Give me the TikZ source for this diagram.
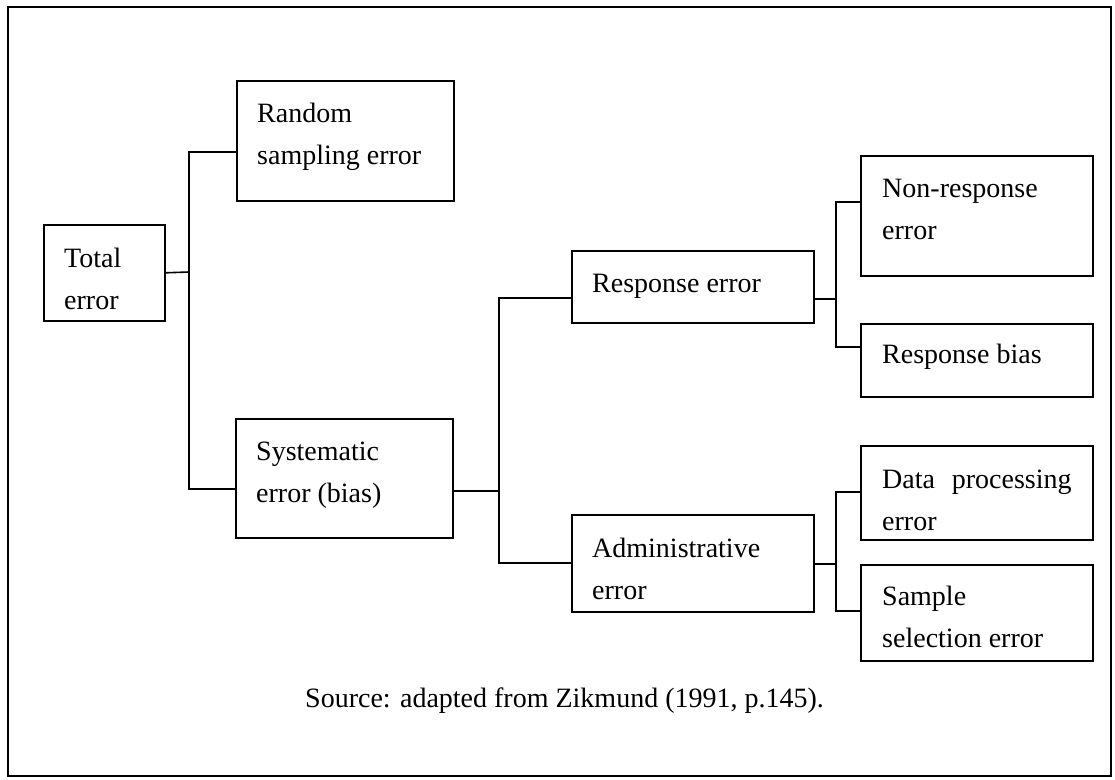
\documentclass[tikz,border=0pt]{standalone}
\usepackage{fontspec}
\setmainfont{Liberation Serif}
\begin{document}
\begin{tikzpicture}[x=1pt,y=-1pt,
  box/.style={draw, line width=1.6pt, rectangle, inner sep=0pt, anchor=north west},
  txt/.style={anchor=base west, inner sep=0pt, font=\fontsize{28}{42}\selectfont},
  conn/.style={line width=1.6pt},
  frame/.style={line width=2pt}]
\useasboundingbox (0,0) rectangle (1115,779);
\draw[frame] (8,7) rectangle (1111,776);
% boxes
\node[box, minimum width=121pt, minimum height=96pt]  (tot)   at (43,224) {};
\node[box, minimum width=217pt, minimum height=120pt] (rnd)   at (236,80) {};
\node[box, minimum width=217pt, minimum height=119pt] (sys)   at (235,418) {};
\node[box, minimum width=242pt, minimum height=72pt]  (resp)  at (571,250) {};
\node[box, minimum width=242pt, minimum height=97pt]  (adm)   at (571,514) {};
\node[box, minimum width=232pt, minimum height=120pt] (nonr)  at (860,155) {};
\node[box, minimum width=232pt, minimum height=73pt]  (rbias) at (860,323) {};
\node[box, minimum width=232pt, minimum height=94pt]  (data)  at (860,445) {};
\node[box, minimum width=232pt, minimum height=96pt]  (samp)  at (860,564) {};
% texts
\node[txt] (ttot) at ([shift={(21,43)}]tot.north west) {\parbox[t]{110pt}{Total\\error}};
\node[txt] (trnd) at ([shift={(21,42)}]rnd.north west) {\parbox[t]{200pt}{Random\\sampling error}};
\node[txt] (tsys) at ([shift={(21,42)}]sys.north west) {\parbox[t]{200pt}{Systematic\\error (bias)}};
\node[txt] (tresp) at ([shift={(21,42)}]resp.north west) {\parbox[t]{220pt}{Response error}};
\node[txt] (tadm) at ([shift={(21,43)}]adm.north west) {\parbox[t]{220pt}{Administrative\\error}};
\node[txt] (tnonr) at ([shift={(22,42)}]nonr.north west) {\parbox[t]{210pt}{Non-response\\error}};
\node[txt] (trbias) at ([shift={(22,40)}]rbias.north west) {\parbox[t]{210pt}{Response bias}};
\node[txt] (tdata) at ([shift={(22,43)}]data.north west) {\parbox[t]{210pt}{Data\hspace{0.35em} processing\\error}};
\node[txt] (tsamp) at ([shift={(22,41)}]samp.north west) {\parbox[t]{210pt}{Sample\\selection error}};
% junction coordinates
\coordinate (j1) at (189,272);
\coordinate (j2) at (499,491);
\coordinate (j3) at (836,299);
\coordinate (j4) at (836,564);
% connectors
\draw[conn] (tot.east) -- (j1);
\draw[conn] (rnd.west |- 0,152) -- (j1 |- 0,152) -- (j1 |- 0,489) -- (sys.west |- 0,489);
\draw[conn] (sys.east |- j2) -- (j2);
\draw[conn] (resp.west |- 0,298) -- (j2 |- 0,298) -- (j2 |- 0,563) -- (adm.west |- 0,563);
\draw[conn] (resp.east |- j3) -- (j3);
\draw[conn] (nonr.west |- 0,202) -- (j3 |- 0,202) -- (j3 |- 0,347) -- (rbias.west |- 0,347);
\draw[conn] (adm.east |- j4) -- (j4);
\draw[conn] (data.west |- 0,492) -- (j4 |- 0,492) -- (j4 |- 0,611) -- (samp.west |- 0,611);
% source
\node[txt] (src) at (305,707) {Source: adapted from Zikmund (1991, p.145).};
\end{tikzpicture}
\end{document}
